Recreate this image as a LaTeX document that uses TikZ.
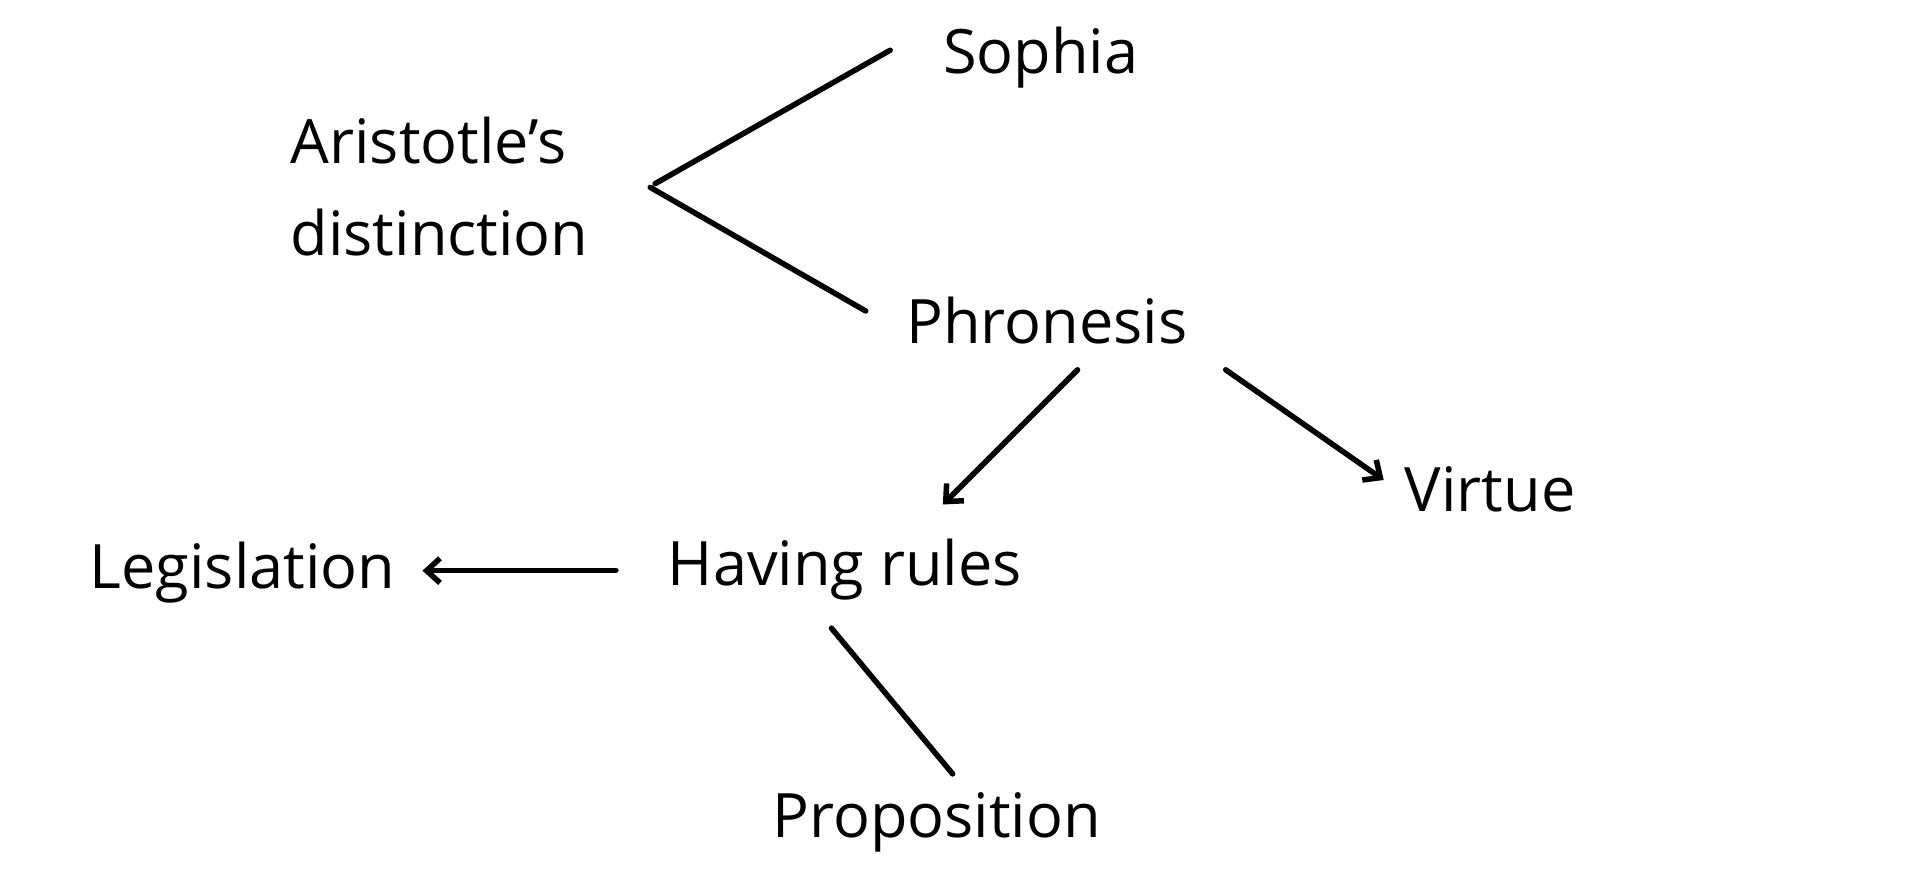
\documentclass[tikz,border=0pt]{standalone}
\usepackage{fontspec}
\setmainfont{Open Sans}
\usetikzlibrary{arrows.meta}
\begin{document}
\begin{tikzpicture}[x=1pt,y=-1pt,
  lbl/.style={font=\fontsize{50}{75}\selectfont, inner sep=0pt, anchor=center},
  ln/.style={line width=4.5pt, line cap=round, line join=round},
  arr/.style={ln, -{Straight Barb[length=11pt,width=20pt,line width=4.5pt]}}]
\useasboundingbox (0,0) rectangle (1568,720);
\node[lbl] (sophia) at (850,47) {Sophia};
\node[lbl, align=left] (arist) at (359,152) {Aristotle's\\distinction};
\node[lbl] (phron) at (855,262) {Phronesis};
\node[lbl] (virtue) at (1217,400) {Virtue};
\node[lbl] (having) at (690,465) {Having rules};
\node[lbl] (legis) at (198,468) {Legislation};
\node[lbl] (prop) at (765,672) {Proposition};
\coordinate (a1) at (535,150); \coordinate (a2) at (727,41);
\coordinate (b1) at (531,153); \coordinate (b2) at (707,254);
\coordinate (c1) at (880,302); \coordinate (c2) at (770,412);
\coordinate (d1) at (1001,302); \coordinate (d2) at (1130,392);
\coordinate (e1) at (503,466); \coordinate (e2) at (345,466);
\coordinate (f1) at (679,513); \coordinate (f2) at (778,632);
\draw[ln] (a1) -- (a2);
\draw[ln] (b1) -- (b2);
\draw[arr] (c1) -- (c2);
\draw[arr] (d1) -- (d2);
\draw[arr] (e1) -- (e2);
\draw[ln] (f1) -- (f2);
\end{tikzpicture}
\end{document}
